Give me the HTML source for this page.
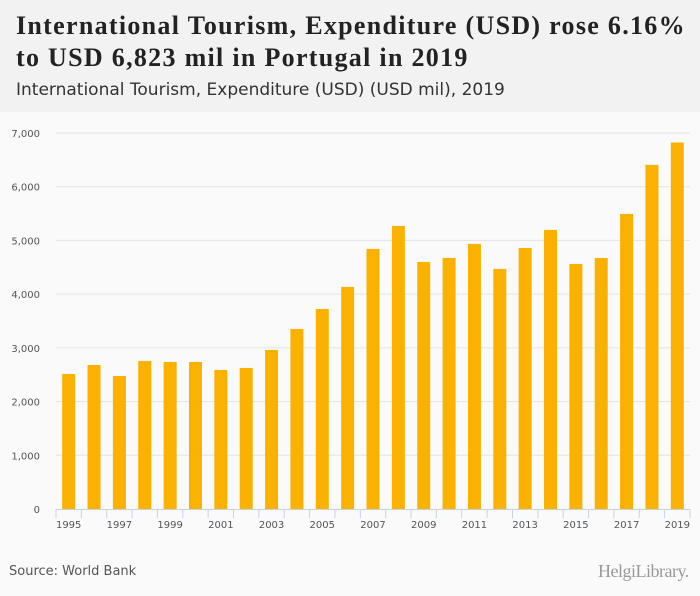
<!DOCTYPE html>
<html><head><meta charset="utf-8"><style>
body{margin:0;width:700px;height:596px;background:#fafafa;font-family:"Liberation Sans",sans-serif;overflow:hidden;position:relative}
#hdr{position:absolute;left:0;top:0;width:700px;height:112px;background:#f2f2f2}
#t{position:absolute;left:16px;top:10px;font:bold 26px/32px "Liberation Serif",serif;color:#222;letter-spacing:1.3px;white-space:nowrap}
#st{position:absolute;left:16px;top:80px;font:17px "DejaVu Sans",sans-serif;color:#333}
#src{position:absolute;left:9px;top:564px;font:13px "DejaVu Sans",sans-serif;color:#555}
#logo{position:absolute;left:598px;top:561px;font:18px "Liberation Serif",serif;color:#999;letter-spacing:-0.5px}
svg{position:absolute;left:0;top:0}
</style></head><body>
<div id="hdr"></div>
<div id="t">International Tourism, Expenditure (USD) rose 6.16%<br>to USD 6,823 mil in Portugal in 2019</div>
<div id="st">International Tourism, Expenditure (USD) (USD mil), 2019</div>
<svg id="c" width="700" height="596"></svg>
<div id="src">Source: World Bank</div>
<div id="logo">HelgiLibrary.</div>
<script>
const years=[1995,1996,1997,1998,1999,2000,2001,2002,2003,2004,2005,2006,2007,2008,2009,2010,2011,2012,2013,2014,2015,2016,2017,2018,2019];
const values=[2514,2681,2477,2756,2737,2737,2588,2626,2961,3352,3724,4134,4842,5270,4600,4674,4935,4469,4860,5196,4562,4674,5493,6406,6823];
const yTicks=[0,1000,2000,3000,4000,5000,6000,7000];
const NS="http://www.w3.org/2000/svg",svg=document.getElementById('c');
const x0=56,x1=690,y0=509,y1=133,ymax=7000;
const bw=(x1-x0)/years.length;
const ys=v=>y0-(v/ymax)*(y0-y1);
function el(t,a){const e=document.createElementNS(NS,t);for(const k in a)e.setAttribute(k,a[k]);svg.appendChild(e);return e;}
yTicks.forEach(v=>{
 if(v>0){const g=el('line',{x1:x0,x2:x1,y1:ys(v),y2:ys(v),stroke:'#e3e3e3'});
 
 }
 const t=el('text',{x:40,y:ys(v)+4,'text-anchor':'end','font-size':'10','font-family':'DejaVu Sans, sans-serif',fill:'#555'});
 t.textContent=v.toLocaleString('en-US');
 
 
});
const ax=el('line',{x1:x0,x2:x1,y1:y0+0.5,y2:y0+0.5,stroke:'#c8d2e4'});


years.forEach((y,i)=>{
 const tx=x0+i*bw;
 const tk=el('line',{x1:tx,x2:tx,y1:y0,y2:y0+9,stroke:'#c8d2e4'});
 
 
 const cx=tx+bw/2;
 const r=el('rect',{x:cx-6.5,y:ys(values[i]),width:13,height:y0-ys(values[i]),fill:'#fbb100'});
 
 
 if(i%2==0){const t=el('text',{x:cx,y:y0+19,'text-anchor':'middle','font-size':'10','font-family':'DejaVu Sans, sans-serif',fill:'#555'});
 t.textContent=y;
 
 }
});
const te=el('line',{x1:x1,x2:x1,y1:y0,y2:y0+9,stroke:'#c8d2e4'});


</script>
</body></html>
